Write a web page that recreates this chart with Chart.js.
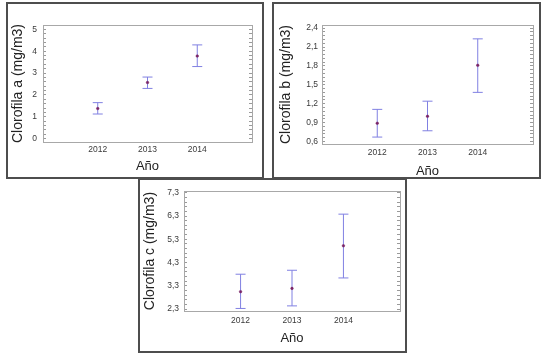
<!DOCTYPE html>
<html><head><meta charset="utf-8">
<script src="https://cdn.jsdelivr.net/npm/chart.js@4.4.1/dist/chart.umd.min.js"></script>
<style>
html,body{margin:0;padding:0;background:#fff;width:551px;height:356px;overflow:hidden;position:relative}
.wrap{position:absolute;background:#fff}
.wrap canvas{position:absolute;left:0;top:0}
.frame{position:absolute;left:0;top:0;right:0;bottom:0;border:2px solid #4e4e4e;box-sizing:border-box;pointer-events:none}
</style></head><body>
<div class="wrap" style="left:6px;top:2px;width:258px;height:177px"><canvas id="c1" width="258" height="177"></canvas><div class="frame"></div></div>
<div class="wrap" style="left:272px;top:2px;width:269px;height:177px"><canvas id="c2" width="269" height="177"></canvas><div class="frame"></div></div>
<div class="wrap" style="left:138px;top:178px;width:269px;height:175px"><canvas id="c3" width="269" height="175"></canvas><div class="frame"></div></div>
<script>
// ---- data ----
const years = [2012, 2013, 2014];
const xTickLabels = [2012, 2013, 2014];

const chlA_mean = [1.38, 2.57, 3.78];
const chlA_low  = [1.13, 2.30, 3.30];
const chlA_high = [1.65, 2.82, 4.29];
const chlA_ticks = [0, 1, 2, 3, 4, 5];

const chlB_mean = [0.89, 1.00, 1.81];
const chlB_low  = [0.67, 0.77, 1.38];
const chlB_high = [1.11, 1.24, 2.23];
const chlB_ticks = [0.6, 0.9, 1.2, 1.5, 1.8, 2.1, 2.4];

const chlC_mean = [3.05, 3.19, 5.02];
const chlC_low  = [2.33, 2.44, 3.64];
const chlC_high = [3.80, 3.97, 6.38];
const chlC_ticks = [2.3, 3.3, 4.3, 5.3, 6.3, 7.3];

const titleA = 'Clorofila a (mg/m3)';
const titleB = 'Clorofila b (mg/m3)';
const titleC = 'Clorofila c (mg/m3)';
const xTitle = 'Año';

// ---- helpers ----
const FONT = "'Liberation Sans', Arial, sans-serif";
const BAR = 'rgb(128,128,226)';
const DOT = '#7a2466';
const AXIS = '#a8a8a8';

function withMinor(major, step, min, max) {
  const out = [];
  for (let v = major[0]; v >= min - 1e-9; v -= step) out.unshift(+v.toFixed(4));
  for (let v = major[0] + step; v <= max + 1e-9; v += step) out.push(+v.toFixed(4));
  return out;
}
function isMajor(major, v) { return major.some(m => Math.abs(m - v) < 1e-6); }

function makePanel(id, L, d) {
  const W = L.w, H = L.h;
  const allTicks = withMinor(d.ticks, d.minor, d.min, d.max);
  const bars = [];
  d.x.forEach((x, i) => {
    bars.push({x: x, y: d.low[i]}, {x: x, y: d.high[i]}, {x: x, y: null});
  });
  const means = d.x.map((x, i) => ({x: x, y: d.mean[i]}));
  const yCommon = {
    type: 'linear', min: d.min, max: d.max,
    afterBuildTicks: s => { s.ticks = allTicks.map(v => ({value: v})); },
    border: {display: true, color: AXIS, width: 1},
    grid: {display: true, drawOnChartArea: false, drawTicks: true, tickLength: -3, tickColor: '#9a9a9a'}
  };
  new Chart(document.getElementById(id), {
    type: 'scatter',
    data: {datasets: [
      {type: 'line', data: bars, borderColor: BAR, borderWidth: 1, spanGaps: false,
       pointStyle: 'line', pointRadius: 5, pointBorderColor: BAR, pointBorderWidth: 1,
       pointBackgroundColor: BAR, fill: false, order: 2},
      {type: 'scatter', data: means, pointRadius: 1.3, pointBackgroundColor: DOT,
       pointBorderColor: DOT, pointBorderWidth: 0.5, order: 1}
    ]},
    options: {
      responsive: false, animation: false,
      layout: {padding: {top: L.top, right: W - L.right, left: 0, bottom: 0}},
      plugins: {legend: {display: false}, tooltip: {enabled: false}},
      scales: {
        x: {
          type: 'linear', position: 'bottom', min: 2010.9, max: 2015.1,
          afterBuildTicks: s => { s.ticks = xTickLabels.map(v => ({value: v})); },
          afterFit: s => { s.height = H - L.bottom; },
          border: {display: true, color: AXIS, width: 1},
          grid: {display: true, drawOnChartArea: false, drawTicks: false},
          ticks: {autoSkip: false, maxRotation: 0, padding: L.xPad, color: '#3a3a3a',
                  font: {family: FONT, size: 8.5}, callback: v => String(v)},
          title: {display: true, text: xTitle, color: '#222',
                  font: {family: FONT, size: 13}, padding: {top: 0, bottom: L.xtPad}}
        },
        xTop: {
          type: 'linear', position: 'top', min: 2010.9, max: 2015.1,
          afterFit: s => { s.height = 0; },
          border: {display: true, color: AXIS, width: 1},
          grid: {display: true, drawOnChartArea: false, drawTicks: false},
          ticks: {display: false}
        },
        y: Object.assign({}, yCommon, {
          position: 'left',
          afterFit: s => { s.width = L.left; },
          ticks: {autoSkip: false, padding: L.yPad, color: '#3a3a3a',
                  font: {family: FONT, size: 8.5},
                  callback: v => isMajor(d.ticks, v) ? d.fmt(v) : ''},
          title: {display: true, text: d.title, color: '#222',
                  font: {family: FONT, size: 14}, padding: {top: L.ytPad, bottom: 0}}
        }),
        yR: Object.assign({}, yCommon, {
          position: 'right',
          afterFit: s => { s.width = 0; },
          ticks: {display: false, autoSkip: false}
        })
      }
    }
  });
}

makePanel('c1', {w: 258, h: 177, left: 37, top: 23, right: 246, bottom: 140, xPad: 3, xtPad: 4.5, yPad: 9, ytPad: 4},
  {x: years, mean: chlA_mean, low: chlA_low, high: chlA_high, ticks: chlA_ticks, minor: 0.2,
   min: -0.15, max: 5.2, title: titleA, fmt: v => String(Math.round(v))});
makePanel('c2', {w: 269, h: 177, left: 50, top: 23, right: 261, bottom: 142, xPad: 4, xtPad: 0, yPad: 7, ytPad: 6},
  {x: years, mean: chlB_mean, low: chlB_low, high: chlB_high, ticks: chlB_ticks, minor: 0.06,
   min: 0.56, max: 2.45, title: titleB, fmt: v => v.toFixed(1).replace('.', ',')});
makePanel('c3', {w: 269, h: 175, left: 46, top: 12, right: 262, bottom: 133, xPad: 5, xtPad: 7, yPad: 8, ytPad: 3.6},
  {x: years, mean: chlC_mean, low: chlC_low, high: chlC_high, ticks: chlC_ticks, minor: 0.2,
   min: 2.22, max: 7.37, title: titleC, fmt: v => v.toFixed(1).replace('.', ',')});
</script>
</body></html>
